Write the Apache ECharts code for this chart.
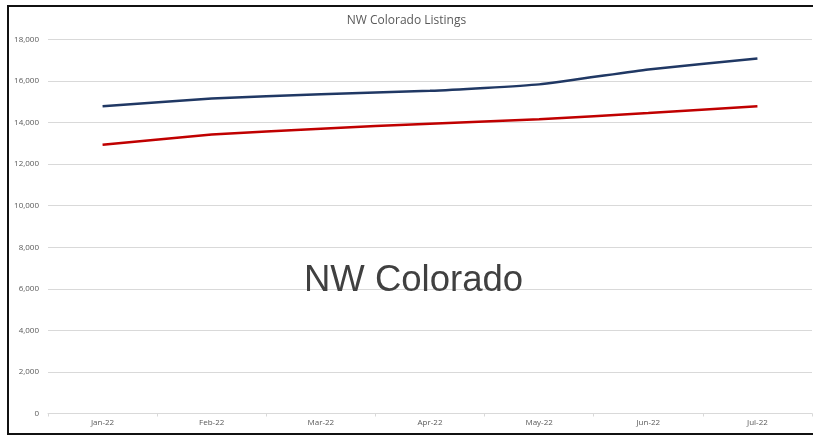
<!DOCTYPE html>
<html>
<head>
<meta charset="utf-8">
<script src="https://cdn.jsdelivr.net/npm/echarts@6/dist/echarts.min.js"></script>
<style>html,body{margin:0;padding:0;background:#fff;}#c{width:813px;height:435px;}</style>
</head>
<body>
<div id="c"></div>
<script>
const categories = ['Jan-22','Feb-22','Mar-22','Apr-22','May-22','Jun-22','Jul-22'];
const seriesBlue = [14790, 15160, 15370, 15530, 15840, 16560, 17080];
const seriesRed = [12930, 13430, 13710, 13950, 14160, 14460, 14790];
const yTicks = [0, 2000, 4000, 6000, 8000, 10000, 12000, 14000, 16000, 18000];

const chart = echarts.init(document.getElementById('c'), null, {renderer: 'canvas'});
chart.setOption({
  animation: false,
  backgroundColor: '#fff',
  title: {
    text: 'NW Colorado Listings',
    left: 'center',
    top: 10,
    textStyle: {fontFamily: 'Open Sans', fontSize: 12, fontWeight: 'normal', color: '#595959'}
  },
  grid: {left: 48, right: 1, top: 39.5, bottom: 21.5},
  xAxis: {
    type: 'category',
    data: categories,
    boundaryGap: true,
    axisLine: {lineStyle: {color: '#d9d9d9', width: 1}},
    axisTick: {show: true, length: 3, lineStyle: {color: '#d9d9d9'}},
    axisLabel: {fontFamily: 'Open Sans', fontSize: 8, color: '#595959', margin: 5}
  },
  yAxis: {
    type: 'value',
    min: yTicks[0],
    max: yTicks[yTicks.length - 1],
    interval: 2000,
    axisLine: {show: false},
    axisTick: {show: false},
    splitLine: {lineStyle: {color: '#d9d9d9', width: 1}},
    axisLabel: {
      fontFamily: 'Open Sans', fontSize: 8, color: '#595959', margin: 9,
      formatter: v => v.toLocaleString('en-US')
    }
  },
  series: [
    {type: 'line', data: seriesBlue, symbol: 'none', smooth: 0.15,
     lineStyle: {color: '#203864', width: 2.5}, z: 3},
    {type: 'line', data: seriesRed, symbol: 'none', smooth: 0.15,
     lineStyle: {color: '#c00000', width: 2.5}, z: 3}
  ],
  graphic: [
    {type: 'text', left: 304, top: 262, z: 10,
     style: {text: 'NW Colorado', fontFamily: 'Liberation Sans', fontSize: 36.5, fill: '#404040'}},
    {type: 'rect', shape: {x: 8, y: 6, width: 830, height: 428}, silent: true, z: 20,
     style: {fill: 'none', stroke: '#111', lineWidth: 2}}
  ]
});
</script>
</body>
</html>
